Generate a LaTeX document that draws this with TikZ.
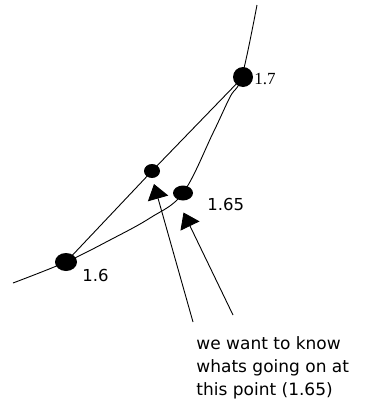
\documentclass[tikz,border=0pt]{standalone}
\usepackage{fontspec}
\setmainfont{Liberation Serif}
\newfontfamily\handfont{DejaVu Sans}
\usetikzlibrary{arrows.meta,shapes.geometric}
\begin{document}
\begin{tikzpicture}[x=1pt,y=-1pt,
  line width=0.9pt,
  bigdot/.style={ellipse, fill=black, inner sep=0pt, minimum width=#1},
  dotlbl/.style={inner sep=0pt, anchor=west, font=\handfont\fontsize{16.5}{18}\selectfont},
  pointer/.style={-{Triangle[length=15pt,width=21pt]}, line width=0.9pt},
  ]
\useasboundingbox (0,0) rectangle (365,410);
% curve
\draw plot[smooth, tension=0.6] coordinates {(13,283) (66,262) (110,240) (150,218) (183,193) (213,133) (230,97) (242,76) (257,5)};
% chord
\node[bigdot=22pt, minimum height=18pt] (p16) at (66,262) {};
\node[bigdot=20pt, minimum height=20pt] (p17) at (243,77) {};
\node[bigdot=20pt, minimum height=15pt] (p165) at (183,193) {};
\node[bigdot=16pt, minimum height=14pt] (pm) at (152,171) {};
\draw (p16.center) -- (pm.center) -- (p17.center);
% labels
\node[inner sep=0pt, anchor=west, font=\fontsize{17}{18}\selectfont] (l17) at (254,79) {1.7};
\node[dotlbl] (l165) at (207,204) {1.65};
\node[dotlbl] (l16) at (82,275) {1.6};
% text
\node[inner sep=0pt, anchor=north west, align=left, font=\handfont\fontsize{17}{23}\selectfont] (txt) at (196,336) {we want to know\\whats going on at\\this point (1.65)};
% pointers
\coordinate (t1) at (193,322);
\coordinate (h1) at (154,184);
\coordinate (t2) at (233,315);
\coordinate (h2) at (183.5,212.5);
\draw[pointer] (t1) -- (h1);
\draw[pointer] (t2) -- (h2);
\end{tikzpicture}
\end{document}
